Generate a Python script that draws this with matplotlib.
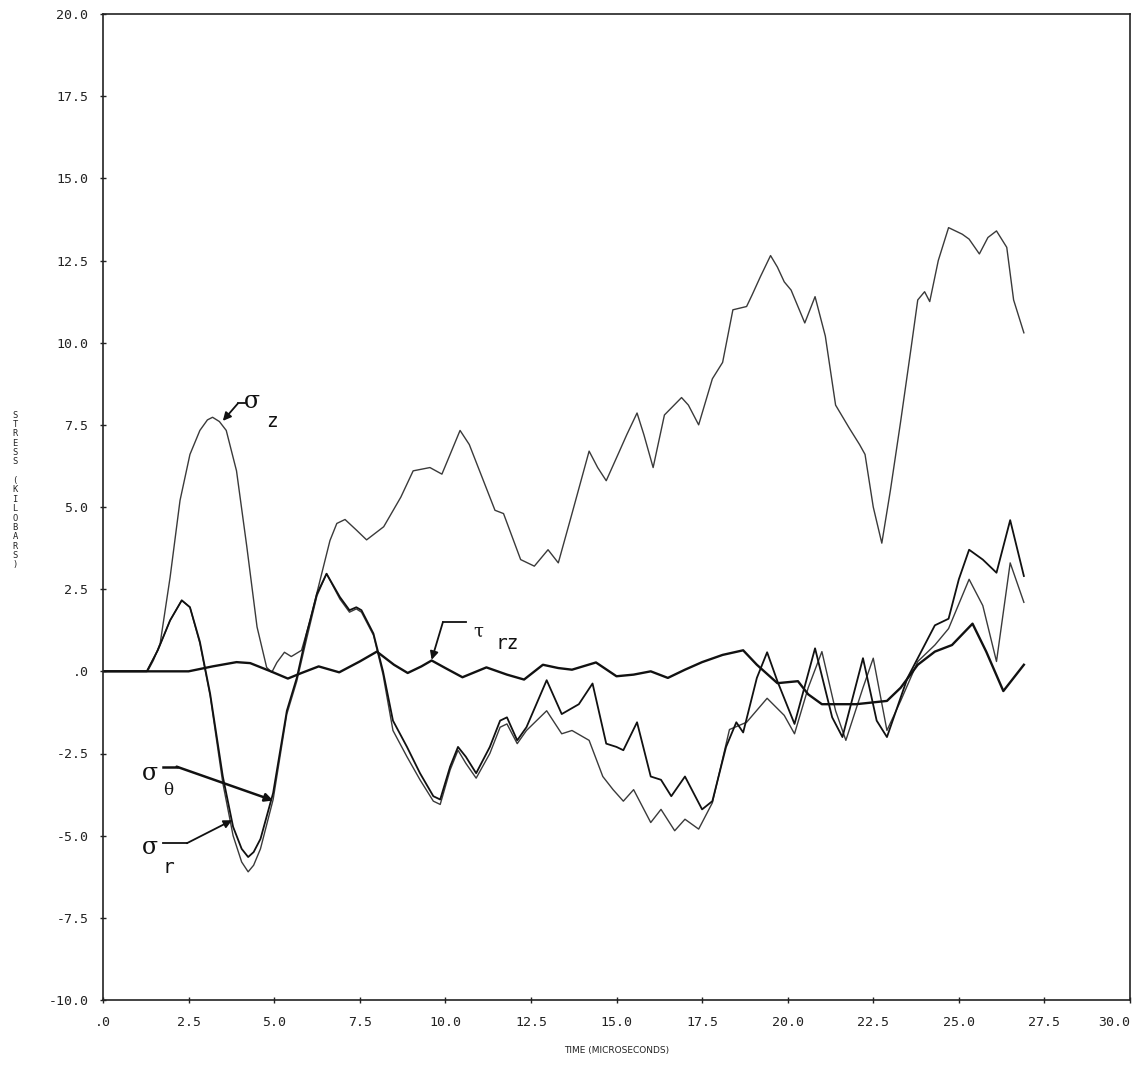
import matplotlib
matplotlib.use("Agg")
import matplotlib.pyplot as plt
from matplotlib.ticker import FuncFormatter

# time (microseconds) / stress (kilobars)
sz_t = [0, 1.3, 1.47, 1.67, 1.96, 2.25, 2.54, 2.83, 3.05, 3.2, 3.4, 3.6, 3.9, 4.2, 4.5, 4.78,
        4.93, 5.08, 5.3, 5.5, 5.8, 6.05, 6.34, 6.63, 6.83, 7.07, 7.4, 7.7, 8.2, 8.7, 9.06, 9.55,
        9.9, 10.1, 10.43, 10.7, 11.0, 11.45, 11.7, 12.2, 12.6, 13.0, 13.3, 13.7, 14.2, 14.45,
        14.7, 15.07, 15.3, 15.6, 15.8, 16.07, 16.4, 16.9, 17.1, 17.4, 17.8, 18.1, 18.4, 18.8,
        18.96, 19.2, 19.5, 19.7, 19.9, 20.1, 20.5, 20.8, 21.1, 21.4, 21.8, 22.1, 22.26, 22.5,
        22.75, 23.0, 23.3, 23.6, 23.8, 24.0, 24.15, 24.4, 24.7, 25.1, 25.3, 25.6, 25.85, 26.1,
        26.4, 26.6, 26.9]
sz_v = [0, 0, 0.33, 0.85, 2.86, 5.2, 6.6, 7.33, 7.65, 7.73, 7.6, 7.33, 6.1, 3.8, 1.35, 0.12,
        -0.03, 0.27, 0.58, 0.45, 0.64, 1.55, 2.77, 3.98, 4.5, 4.62, 4.3, 4.0, 4.4, 5.3, 6.1, 6.2,
        6.0, 6.5, 7.33, 6.9, 6.1, 4.9, 4.8, 3.4, 3.2, 3.7, 3.3, 4.8, 6.7, 6.2,
        5.8, 6.66, 7.2, 7.86, 7.2, 6.2, 7.8, 8.33, 8.1, 7.5, 8.9, 9.4, 11.0, 11.1,
        11.45, 12.0, 12.65, 12.3, 11.85, 11.6, 10.6, 11.4, 10.2, 8.1, 7.4, 6.9, 6.6, 5.0,
        3.9, 5.5, 7.6, 9.8, 11.3, 11.55, 11.25, 12.5, 13.5, 13.3, 13.15, 12.7, 13.2, 13.4,
        12.9, 11.3, 10.3]

trz_t = [0, 2.5, 3.2, 3.9, 4.3, 4.9, 5.4, 5.8, 6.3, 6.9, 7.5, 8.0, 8.5, 8.9, 9.3, 9.6, 10.0,
         10.5, 11.2, 11.8, 12.3, 12.85, 13.3, 13.7, 14.4, 15.0, 15.5, 16.0, 16.5, 17.0, 17.5,
         18.1, 18.7, 19.1, 19.7, 20.3, 20.6, 21.0, 22.0, 22.9, 23.3, 23.8, 24.3, 24.8, 25.4,
         25.8, 26.3, 26.9]
trz_v = [0, 0, 0.15, 0.28, 0.25, 0.0, -0.22, -0.05, 0.15, -0.03, 0.3, 0.6, 0.2, -0.05, 0.15,
         0.33, 0.1, -0.18, 0.12, -0.1, -0.25, 0.2, 0.1, 0.05, 0.27, -0.15, -0.1, 0.0, -0.2, 0.05,
         0.28, 0.5, 0.64, 0.2, -0.36, -0.3, -0.7, -1.0, -1.0, -0.9, -0.5, 0.2, 0.6, 0.8, 1.45,
         0.6, -0.6, 0.2]

sth_t = [0, 1.28, 1.6, 1.96, 2.3, 2.54, 2.83, 3.13, 3.5, 3.8, 4.05, 4.24, 4.4, 4.6, 4.97, 5.37,
         5.66, 5.95, 6.25, 6.53, 6.92, 7.2, 7.4, 7.55, 7.9, 8.18, 8.47, 8.88, 9.26, 9.65, 9.85,
         10.14, 10.37, 10.6, 10.9, 11.3, 11.6, 11.8, 12.1, 12.37, 12.96, 13.4, 13.9, 14.3, 14.7,
         15.0, 15.2, 15.6, 16.0, 16.3, 16.6, 17.0, 17.5, 17.8, 18.2, 18.5, 18.7, 19.1, 19.4,
         19.7, 20.2, 20.8, 21.3, 21.6, 22.2, 22.6, 22.9, 23.5, 24.0, 24.3, 24.7, 25.0, 25.3,
         25.7, 26.1, 26.5, 26.9]
sth_v = [0, 0, 0.64, 1.55, 2.16, 1.95, 0.9, -0.68, -3.2, -4.73, -5.4, -5.65, -5.5, -5.1, -3.7,
         -1.2, -0.2, 1.15, 2.36, 2.97, 2.26, 1.86, 1.95, 1.86, 1.15, 0.0, -1.5, -2.3, -3.1, -3.8,
         -3.9, -2.9, -2.3, -2.6, -3.1, -2.3, -1.5, -1.4, -2.1, -1.7, -0.27, -1.3, -1.0, -0.37,
         -2.2, -2.3, -2.4, -1.55, -3.2, -3.3, -3.8, -3.2, -4.2, -3.95, -2.3, -1.55, -1.86, -0.2,
         0.58, -0.3, -1.6, 0.7, -1.4, -2.0, 0.4, -1.5, -2.0, -0.2, 0.8, 1.4, 1.6, 2.8, 3.7,
         3.4, 3.0, 4.6, 2.9]

sr_t = [0, 1.28, 1.6, 1.96, 2.3, 2.54, 2.83, 3.13, 3.5, 3.8, 4.05, 4.24, 4.4, 4.6, 4.97, 5.37,
        5.66, 5.95, 6.25, 6.53, 6.92, 7.2, 7.4, 7.55, 7.9, 8.18, 8.47, 8.88, 9.26, 9.65, 9.85,
        10.14, 10.37, 10.6, 10.9, 11.3, 11.6, 11.8, 12.1, 12.37, 12.96, 13.4, 13.7, 14.2, 14.6,
        14.9, 15.2, 15.5, 16.0, 16.3, 16.7, 17.0, 17.4, 17.8, 18.3, 18.8, 19.4, 19.9, 20.2,
        20.6, 21.0, 21.4, 21.7, 22.2, 22.5, 22.9, 23.3, 23.8, 24.3, 24.7, 25.3, 25.7, 26.1,
        26.5, 26.9]
sr_v = [0, 0, 0.64, 1.55, 2.16, 1.95, 0.85, -0.75, -3.4, -5.0, -5.8, -6.1, -5.9, -5.4, -3.9,
        -1.3, -0.3, 1.0, 2.3, 2.97, 2.2, 1.8, 1.9, 1.8, 1.1, -0.1, -1.8, -2.6, -3.3, -3.95,
        -4.05, -3.0, -2.4, -2.8, -3.25, -2.5, -1.7, -1.6, -2.2, -1.8, -1.2, -1.9, -1.8, -2.1,
        -3.2, -3.6, -3.95, -3.6, -4.6, -4.2, -4.85, -4.5, -4.8, -4.0, -1.77, -1.55, -0.82, -1.34,
        -1.9, -0.5, 0.6, -1.2, -2.1, -0.5, 0.4, -1.8, -0.9, 0.3, 0.8, 1.3, 2.8, 2.0, 0.3,
        3.3, 2.1]

x_ticks = [0, 2.5, 5, 7.5, 10, 12.5, 15, 17.5, 20, 22.5, 25, 27.5, 30]
y_ticks = [-10, -7.5, -5, -2.5, 0, 2.5, 5, 7.5, 10, 12.5, 15, 17.5, 20]
ylabel_text = "STRESS (KILOBARS)"
xlabel_text = "TIME (MICROSECONDS)"

fig = plt.figure(figsize=(11.37, 10.70), dpi=100)
ax = fig.add_axes([103/1137, 1 - 1000/1070, 1027/1137, 986/1070])

ax.plot(sz_t, sz_v, color="#3a3a3a", lw=1.0)
ax.plot(sr_t, sr_v, color="#3a3a3a", lw=1.0)
ax.plot(sth_t, sth_v, color="#111111", lw=1.3)
ax.plot(trz_t, trz_v, color="#111111", lw=1.7)

ax.set_xlim(0, 30)
ax.set_ylim(-10, 20)
ax.set_xticks(x_ticks)
ax.set_yticks(y_ticks)


def fmt(v, pos):
    s = f"{v:.1f}"
    if s in ("0.0", "-0.0"):
        return ".0"
    return s


ax.xaxis.set_major_formatter(FuncFormatter(fmt))
ax.yaxis.set_major_formatter(FuncFormatter(fmt))
ax.tick_params(direction="inout", length=5, width=1, labelsize=9.5, colors="#222222")
ax.tick_params(axis="x", pad=9)
ax.tick_params(axis="y", pad=8)
fig.canvas.draw()
for lab in ax.get_xticklabels() + ax.get_yticklabels():
    lab.set_family("DejaVu Sans Mono")
ax.get_xticklabels()[-1].set_horizontalalignment("right")
for sp in ax.spines.values():
    sp.set_linewidth(1.2)
    sp.set_color("#222222")

ax.set_xlabel(xlabel_text, fontsize=6.5, family="DejaVu Sans", labelpad=12, color="#222222")
fig.text(15/1137, 1 - 490/1070, "\n".join(ylabel_text), fontsize=6.3, family="DejaVu Sans Mono",
         ha="center", va="center", linespacing=1.05, color="#222222")

# curve labels with leaders
lbl = dict(fontsize=17, family="DejaVu Serif", color="#111111", ha="center", va="center")
sub = dict(fontsize=14, family="DejaVu Sans Mono", color="#111111", ha="center", va="center")
arr = dict(arrowstyle="-|>", color="#111111", lw=1.3, mutation_scale=12, shrinkA=0, shrinkB=0)

ax.text(4.35, 8.2, "σ", **lbl)
ax.text(4.94, 7.6, "z", **sub)
ax.plot([4.15, 3.94], [8.15, 8.15], color="#111111", lw=1.3)
ax.annotate("", xy=(3.5, 7.62), xytext=(3.94, 8.15), arrowprops=arr)

ax.text(10.96, 1.2, "τ", fontsize=13, family="DejaVu Serif", color="#111111", ha="center", va="center")
ax.text(11.8, 0.85, "rz", **sub)
ax.plot([9.93, 10.6], [1.5, 1.5], color="#111111", lw=1.3)
ax.annotate("", xy=(9.6, 0.35), xytext=(9.93, 1.5), arrowprops=arr)

ax.text(1.37, -3.1, "σ", **lbl)
ax.text(1.9, -3.62, "θ", fontsize=12, family="DejaVu Serif", color="#111111", ha="center", va="center")
ax.plot([1.75, 2.15], [-2.9, -2.9], color="#111111", lw=1.8)
ax.annotate("", xy=(4.97, -3.93), xytext=(2.15, -2.9), arrowprops=dict(arr, lw=1.8))

ax.text(1.37, -5.35, "σ", **lbl)
ax.text(1.9, -5.96, "r", **sub)
ax.plot([1.75, 2.45], [-5.23, -5.23], color="#111111", lw=1.3)
ax.annotate("", xy=(3.77, -4.53), xytext=(2.45, -5.23), arrowprops=arr)

fig.savefig("out.png", dpi=100, facecolor="white")
